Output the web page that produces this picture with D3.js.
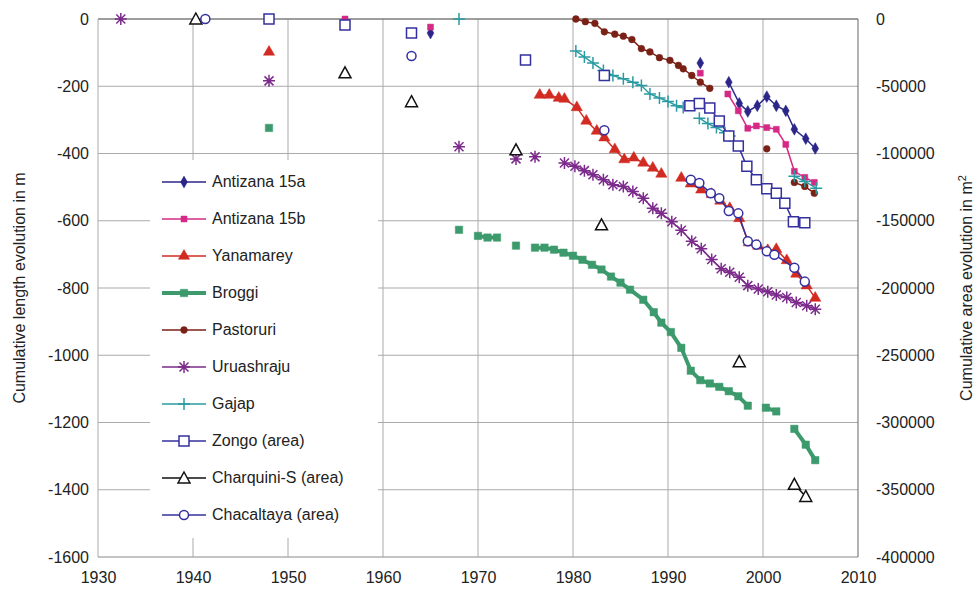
<!DOCTYPE html>
<html><head><meta charset="utf-8">
<script src="https://cdn.jsdelivr.net/npm/d3@7"></script>
<style>body{margin:0;background:#fff}text{font-family:"Liberation Sans",Arial,sans-serif}</style>
</head><body>
<script>
// [year, value]; null breaks the line
var antizana15a = [[1965,-42],null,[1993.4,-131],null,[1996.4,-188],[1997.5,-251],[1998.4,-275],[1999.4,-258],[2000.4,-231],[2001.4,-258],[2002.4,-273],[2003.3,-328],[2004.5,-356],[2005.5,-385]];
var antizana15b = [[1956,0],null,[1965,-24],null,[1993.4,-161],null,[1996.3,-223],[1997.4,-273],[1998.4,-325],[1999.3,-318],[2000.4,-323],[2001.4,-328],[2002.4,-373],[2003.3,-453],[2004.4,-471],[2005.4,-486]];
var yanamarey = [[1948,-98],null,[1976.5,-226],[1977.5,-226],[1978.5,-235],[1979.1,-238],[1980.4,-263],[1981.4,-303],[1982.5,-333],[1983.3,-353],[1984.4,-388],[1985.4,-418],[1986.4,-413],[1987.4,-428],[1988.4,-443],[1989.3,-461],null,[1991.4,-473],[1992.4,-490],[1993.5,-508],[1994.6,-521],[1995.5,-541],[1996.5,-563],[1997.5,-593],[1998.5,-665],[1999.5,-675],[2000.5,-688],[2001.4,-685],[2002.5,-718],[2003.5,-758],[2004.6,-793],[2005.5,-830]];
var broggi = [[1948,-324],null,[1968,-627],null,[1970,-645],[1971,-650],[1972,-650],null,[1974,-674],null,[1976,-680],[1977,-680],[1978,-686],[1979,-695],[1980,-704],[1981,-716],[1982,-731],[1983,-745],[1984,-766],[1985,-784],[1986,-805],[1987.4,-835],[1988.5,-872],[1989.3,-903],[1990.3,-931],[1991.4,-978],[1992.4,-1046],[1993.4,-1074],[1994.4,-1084],[1995.4,-1094],[1996.4,-1107],[1997.4,-1122],[1998.4,-1150],null,[2000.3,-1156],[2001.4,-1167],null,[2003.3,-1219],[2004.5,-1266],[2005.5,-1312]];
var pastoruri = [[1980.3,0],[1981.3,-8],[1982.3,-13],[1983.3,-38],[1984.4,-45],[1985.3,-51],[1986.2,-61],[1987.2,-88],[1988.1,-98],[1989.1,-115],[1990.2,-123],[1991.1,-138],[1991.6,-148],[1992.5,-168],[1993.4,-188],[1994.4,-206],null,[2000.4,-386],null,[2003.3,-486],[2004.4,-498],[2005.4,-518]];
var uruashraju = [[1932.4,0],null,[1948,-184],null,[1968,-380],null,[1974,-416],null,[1976,-410],null,[1979.1,-428],[1980.2,-438],[1981.2,-451],[1982.1,-463],[1983.2,-478],[1984.2,-493],[1985.3,-498],[1986.3,-513],[1987.4,-533],[1988.4,-563],[1989.3,-578],[1990.4,-603],[1991.4,-628],[1992.5,-661],[1993.5,-683],[1994.6,-715],[1995.6,-743],[1996.5,-753],[1997.5,-768],[1998.4,-793],[1999.5,-803],[2000.5,-811],[2001.4,-821],[2002.5,-828],[2003.5,-843],[2004.6,-853],[2005.5,-863]];
var gajap = [[1968,0],null,[1980.3,-95],[1981.2,-113],[1982.1,-131],[1983.2,-153],[1984.2,-168],[1985.3,-178],[1986.3,-188],[1987.2,-198],[1988.1,-223],[1989.1,-235],[1990,-245],[1990.9,-258],[1991.6,-263],null,[1993.3,-295],[1994.2,-311],[1995.1,-323],[1996,-338],[1996.5,-348],null,[2003.3,-468],[2004.4,-483],[2005.6,-503]];
// area series in m2
var zongo = [[1948,0],null,[1956,-4500],null,[1963,-10500],null,[1975,-30500],null,[1983.3,-42000],null,[1992.3,-64500],[1993.3,-62750],[1994.4,-66250],[1995.4,-75750],[1996.4,-87000],[1997.4,-94500],[1998.3,-109500],[1999.3,-119500],[2000.4,-126250],[2001.4,-129500],[2002.3,-137000],[2003.2,-150750],[2004.4,-151500]];
var charquini = [[1940.3,0],null,[1956,-40000],null,[1963,-61500],null,[1974,-97250],null,[1983,-153000],null,[1997.5,-254750],null,[2003.3,-346000],[2004.5,-355000]];
var chacaltaya = [[1941.3,0],null,[1963,-27500],null,[1983.3,-82750],null,[1992.4,-119500],[1993.3,-122000],[1994.5,-129500],[1995.4,-133250],[1996.4,-142750],[1997.4,-144500],[1998.4,-165250],[1999.3,-167750],[2000.4,-172750],[2001.2,-175250],[2003.3,-185000],[2004.4,-195250]];

var xTicks = [1930,1940,1950,1960,1970,1980,1990,2000,2010];
var yTicks = [0,-200,-400,-600,-800,-1000,-1200,-1400,-1600];
var yRTicks = [0,-50000,-100000,-150000,-200000,-250000,-300000,-350000,-400000];

var W = 978, H = 594, L = 98, R = 858, T = 19, B = 557;
var x = d3.scaleLinear().domain([1930,2010]).range([L,R]);
var y = d3.scaleLinear().domain([-1600,0]).range([B,T]);
var yR = d3.scaleLinear().domain([-400000,0]).range([B,T]);
var fmt = function(d){ return String(d); };

var svg = d3.select("body").append("svg").attr("width",W).attr("height",H);

// grid
svg.append("g").selectAll("line").data(yTicks).join("line")
  .attr("x1",L).attr("x2",R).attr("y1",d=>y(d)).attr("y2",d=>y(d))
  .attr("stroke",d=>d==-1600?"#888":"#aaa").attr("stroke-width",1);
svg.append("g").selectAll("line").data(xTicks.slice(1,-1)).join("line")
  .attr("x1",d=>x(d)).attr("x2",d=>x(d)).attr("y1",T).attr("y2",B)
  .attr("stroke","#aaa");
svg.append("line").attr("x1",L).attr("x2",R).attr("y1",T).attr("y2",T).attr("stroke","#666");
svg.append("line").attr("x1",R).attr("x2",R).attr("y1",T).attr("y2",B).attr("stroke","#666");
svg.append("line").attr("x1",L).attr("x2",L).attr("y1",T).attr("y2",B).attr("stroke","#aaa");

var axL = svg.append("g").attr("transform","translate("+L+",0)")
  .call(d3.axisLeft(y).tickValues(yTicks).tickSize(0).tickPadding(9).tickFormat(fmt));
var axR = svg.append("g").attr("transform","translate("+R+",0)")
  .call(d3.axisRight(yR).tickValues(yRTicks).tickSize(0).tickPadding(18).tickFormat(fmt));
var axB = svg.append("g").attr("transform","translate(0,"+B+")")
  .call(d3.axisBottom(x).tickValues(xTicks).tickSize(0).tickPadding(15).tickFormat(fmt));
[axL,axR,axB].forEach(function(a){
  a.select(".domain").remove();
  a.selectAll("text").attr("font-size",16).attr("fill","#222");
});

svg.append("text").attr("transform","translate(25,"+((T+B)/2)+") rotate(-90)")
  .attr("text-anchor","middle").attr("font-size",16).attr("fill","#222")
  .text("Cumulative length evolution in m");
var rl = svg.append("text").attr("transform","translate(972,"+((T+B)/2)+") rotate(-90)")
  .attr("text-anchor","middle").attr("font-size",16).attr("fill","#222")
  .text("Cumulative area evolution in m");
rl.append("tspan").attr("dy",-6).attr("font-size",11).text("2");

function sym(type,size){
  if(type=="plus") return "M"+(-size)+",0H"+size+"M0,"+(-size)+"V"+size;
  if(type=="star"){var s=size*0.75;return "M"+(-size)+",0H"+size+"M"+(-s)+","+(-s)+"L"+s+","+s+"M"+(-s)+","+s+"L"+s+","+(-s)+"M0,"+(-size)+"V"+size;}
  if(type=="hsquare") return "M-5,-5H5V5H-5Z";
  if(type=="htri") return "M0,-6L6,5H-6Z";
  if(type=="hcircle") return d3.symbol(d3.symbolCircle,64)();
  return d3.symbol(type,size)();
}

var series = [
  {name:"Antizana 15a",data:antizana15a,color:"#2b2688",sym:d3.symbolDiamond,size:40,fill:true,w:1.5,area:false},
  {name:"Antizana 15b",data:antizana15b,color:"#d42a86",sym:d3.symbolSquare,size:36,fill:true,w:1.5,area:false},
  {name:"Yanamarey",data:yanamarey,color:"#d22b22",sym:d3.symbolTriangle,size:55,fill:true,w:1.5,area:false},
  {name:"Broggi",data:broggi,color:"#3c9a6c",sym:d3.symbolSquare,size:55,fill:true,w:4,area:false},
  {name:"Pastoruri",data:pastoruri,color:"#7a2116",sym:d3.symbolCircle,size:36,fill:true,w:1.5,area:false},
  {name:"Uruashraju",data:uruashraju,color:"#7c2b8c",sym:"star",size:6,fill:false,w:1.5,area:false},
  {name:"Gajap",data:gajap,color:"#2a9ba2",sym:"plus",size:6,fill:false,w:1.5,area:false},
  {name:"Zongo (area)",data:zongo,color:"#3530a0",sym:"hsquare",fill:false,w:1.5,area:true},
  {name:"Charquini-S (area)",data:charquini,color:"#111",sym:"htri",fill:false,w:1.5,area:true},
  {name:"Chacaltaya (area)",data:chacaltaya,color:"#3530a0",sym:"hcircle",fill:false,w:1.5,area:true}
];

function markAttrs(sel,s){
  sel.attr("d",sym(s.sym,s.size))
    .attr("fill",s.fill?s.color:(s.sym=="star"||s.sym=="plus"?"none":"#fff"))
    .attr("stroke",s.color).attr("stroke-width",s.fill?0.5:1.5);
}

series.forEach(function(s){
  var ys = s.area?yR:y;
  var line = d3.line().defined(d=>d!==null).x(d=>x(d[0])).y(d=>ys(d[1]));
  var g = svg.append("g");
  g.append("path").datum(s.data).attr("d",line).attr("fill","none")
    .attr("stroke",s.color).attr("stroke-width",s.w);
  g.selectAll("path.m").data(s.data.filter(d=>d!==null)).join("path").attr("class","m")
    .attr("transform",d=>"translate("+x(d[0])+","+ys(d[1])+")")
    .call(markAttrs,s);
});

// legend
var lg = svg.append("g");
lg.append("rect").attr("x",150).attr("y",160).attr("width",228).attr("height",378).attr("fill","#fff");
series.forEach(function(s,i){
  var yy = 182+i*37;
  lg.append("line").attr("x1",162).attr("x2",206).attr("y1",yy).attr("y2",yy)
    .attr("stroke",s.color).attr("stroke-width",s.w);
  lg.append("path").attr("transform","translate(184,"+yy+")").call(markAttrs,s);
  lg.append("text").attr("x",212).attr("y",yy+5).attr("font-size",16).attr("fill","#222").text(s.name);
});
</script>
</body></html>
